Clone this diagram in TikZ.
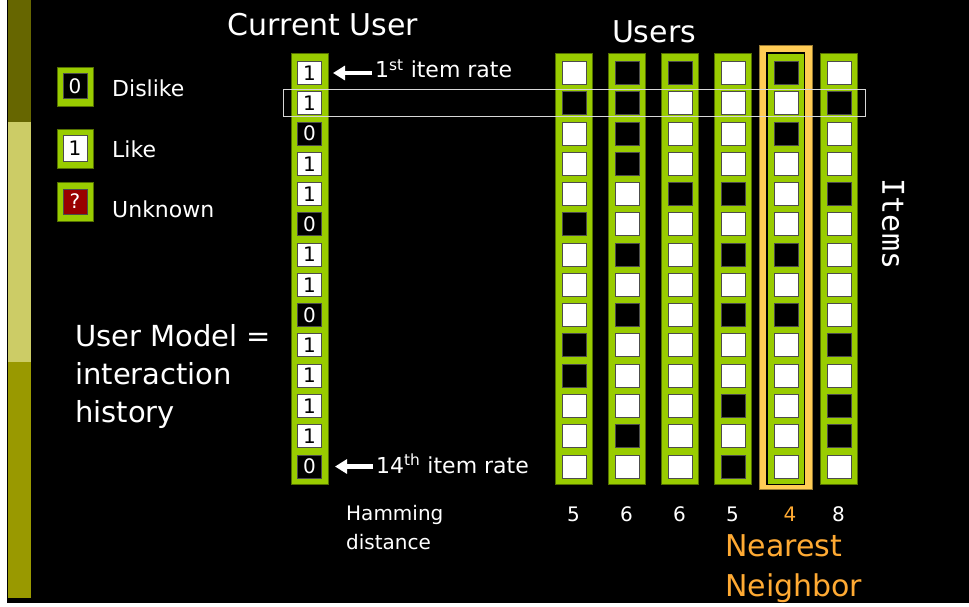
\documentclass[tikz,border=0pt]{standalone}
\usepackage{fontspec}
\setmainfont{DejaVu Sans}
\newfontfamily\itemsfont{DejaVu Sans Mono}
\usetikzlibrary{arrows.meta}

\definecolor{cellgreen}{RGB}{153,204,0}
\definecolor{barA}{RGB}{102,102,0}
\definecolor{barB}{RGB}{204,204,102}
\definecolor{barC}{RGB}{153,153,0}
\definecolor{hiyellow}{RGB}{255,204,85}
\definecolor{nearorange}{RGB}{255,170,51}
\definecolor{unkred}{RGB}{153,0,0}
\definecolor{rowgray}{RGB}{215,215,215}
\colorlet{W}{white}
\colorlet{B}{black}

\tikzset{
  lbl/.style={text=white, inner sep=0pt, font=\fontsize{#1}{#1}\selectfont},
  col/.style={fill=cellgreen, draw=cellgreen!55!black, line width=0.6pt,
    minimum width=37pt, minimum height=431pt, inner sep=0pt, anchor=north west},
  cell/.style={draw=black!70, line width=1pt, minimum width=24pt,
    minimum height=23pt, inner sep=0pt, anchor=north west,
    font=\fontsize{20}{20}\selectfont},
  legbox/.style={fill=cellgreen, draw=cellgreen!55!black, line width=0.6pt,
    minimum width=36pt, minimum height=39pt, inner sep=0pt},
  legcell/.style={draw=black!70, line width=1pt, minimum width=24pt,
    minimum height=25pt, inner sep=0pt, font=\fontsize{20}{20}\selectfont},
  bigarrow/.style={white, line width=4.5pt,
    -{Triangle[length=12pt,width=14pt]}},
}

\begin{document}
\begin{tikzpicture}[x=1pt,y=-1pt]
\useasboundingbox (0,0) rectangle (969,607);

% slide background and the coloured side bar
\fill[white] (0,0) rectangle (969,607);
\fill[black] (7,0) rectangle (969,603);
\fill[barA] (8,0) rectangle (31,122);
\fill[barB] (8,122) rectangle (31,362);
\fill[barC] (8,362) rectangle (31,598);

% titles
\node[lbl=30, anchor=base] (cutitle) at (323,36) {Current User};
\node[lbl=30, anchor=base] (utitle) at (654,43) {Users};

% legend
\node[legbox] (lg0) at (75,86.5) {};
\node[legcell, fill=black, text=white] (lg0c) at (lg0.center) {0};
\node[lbl=22, anchor=west] (lg0t) at (112,88) {Dislike};
\node[legbox] (lg1) at (75,148.5) {};
\node[legcell, fill=white, text=black] (lg1c) at (lg1.center) {1};
\node[lbl=22, anchor=west] (lg1t) at (112,149) {Like};
\node[legbox] (lgq) at (75,201.5) {};
\node[legcell, fill=unkred, text=white] (lgqc) at (lgq.center) {?};
\node[lbl=22, anchor=west] (lgqt) at (112,209) {Unknown};

% user model text (base anchor sits on the last line)
\node[text=white, inner sep=0pt, anchor=base west, align=left,
  font=\fontsize{29}{38}\selectfont] (umodel) at (75,422)
  {User Model =\\interaction\\history};

% current user column
\node[col] (cucol) at (291,53) {};
\foreach \v [count=\r] in {1,1,0,1,1,0,1,1,0,1,1,1,1,0} {
  \ifnum\v=1 \def\bg{white}\def\fg{black}\else \def\bg{black}\def\fg{white}\fi
  \node[cell, fill=\bg, text=\fg] (cu\r) at (297,{61+30.27*(\r-1)}) {\v};
}

% nearest neighbour highlight
\node[fill=hiyellow, draw=hiyellow!60!black, line width=0.6pt,
  minimum width=53pt, minimum height=444pt, inner sep=0pt,
  anchor=north west] (nnbox) at (759,45) {};

% other users
\foreach \k/\pat in {
  1/{W,B,W,W,W,B,W,W,W,B,B,W,W,W},
  2/{B,B,B,B,W,W,B,W,B,W,W,W,B,W},
  3/{B,W,W,W,B,W,W,W,W,W,W,W,W,W},
  4/{W,W,W,W,B,W,B,W,B,W,W,B,W,B},
  5/{B,W,B,W,W,W,B,W,B,W,W,W,W,W},
  6/{W,B,W,W,B,W,W,W,W,B,W,B,B,W}} {
  \node[col] (col\k) at ({555+53*(\k-1)},53) {};
  \foreach \v [count=\r] in \pat {
    \node[cell, fill=\v] (c\k-\r) at ({562+53*(\k-1)},{61+30.27*(\r-1)}) {};
  }
}
\draw[black, line width=1.5pt] (col5.north west) rectangle (col5.south east);

% highlighted item row
\node[draw=rowgray, line width=1.1pt, minimum width=582pt, minimum height=27pt,
  inner sep=0pt, anchor=north west] (rowbox) at (283,89) {};

% item labels with arrows
\node[lbl=22, anchor=base west] (rate1) at (375,78) {1\textsuperscript{st} item rate};
\draw[bigarrow, shorten <=3pt] (cu1.east -| rate1.west) -- ([xshift=11pt]cu1.east);
\node[lbl=22, anchor=base west] (rate14) at (376,473) {14\textsuperscript{th} item rate};
\draw[bigarrow, shorten <=3pt] (cu14.east -| rate14.west) -- ([xshift=13pt]cu14.east);

% items axis label
\node[text=white, inner sep=0pt, rotate=-90,
  font=\itemsfont\fontsize{30}{30}\selectfont] (items) at (893,224) {Items};

% hamming distances
\node[text=white, inner sep=0pt, anchor=base west, align=left,
  font=\fontsize{20}{29}\selectfont] (hd) at (346,549) {Hamming\\distance};
\node[lbl=20, anchor=base] (d1) at (573.5,521) {5};
\node[lbl=20, anchor=base] (d2) at (626.5,521) {6};
\node[lbl=20, anchor=base] (d3) at (679.5,521) {6};
\node[lbl=20, anchor=base] (d4) at (732.5,521) {5};
\node[lbl=20, anchor=base, text=nearorange] (d5) at (790,521) {4};
\node[lbl=20, anchor=base] (d6) at (838.5,521) {8};

\node[text=nearorange, inner sep=0pt, anchor=base west, align=left,
  font=\fontsize{30}{40}\selectfont] (nn) at (725,596) {Nearest\\Neighbor};
\end{tikzpicture}
\end{document}
